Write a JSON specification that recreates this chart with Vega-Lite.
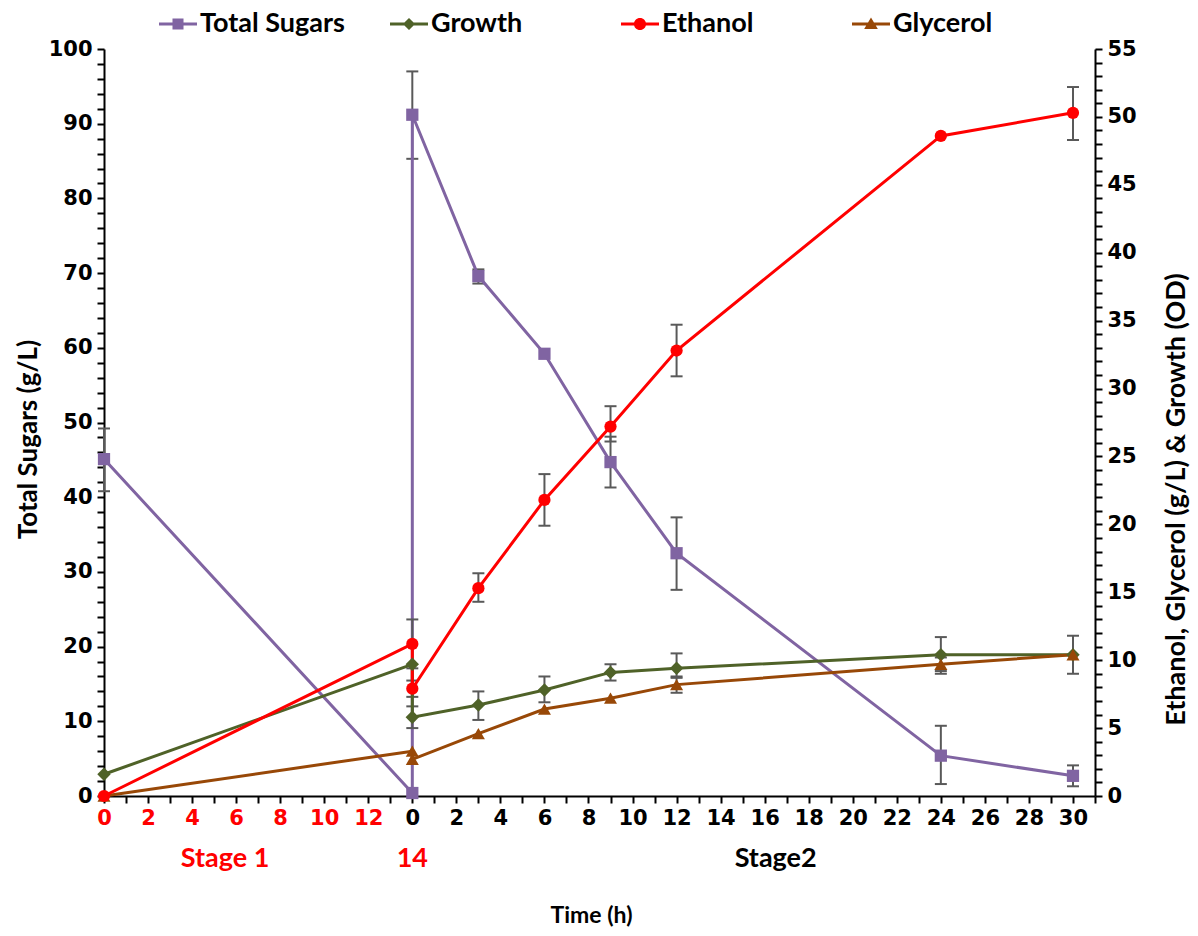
{
  "$schema": "https://vega.github.io/schema/vega-lite/v6.json",
  "width": 991,
  "height": 747,
  "padding": {"left": 15, "top": 5, "right": 3, "bottom": 5},
  "background": "white",
  "config": {
    "view": {"stroke": null},
    "axis": {
      "grid": false,
      "domainColor": "black",
      "domainWidth": 2,
      "tickColor": "black",
      "tickWidth": 2,
      "tickSize": 7,
      "labelFont": "DejaVu Sans",
      "labelFontWeight": "bold",
      "labelFontSize": 21,
      "labelColor": "black",
      "titleFont": "Lato",
      "titleFontWeight": "bold",
      "titleFontSize": 22,
      "titleColor": "black",
      "labelOverlap": false,
      "labelFlush": false
    }
  },
  "datasets": {
    "series": [
      {"series": "Total Sugars", "t": 0, "v": 45.1, "ord": 1},
      {"series": "Total Sugars", "t": 14, "v": 0.4, "ord": 2},
      {"series": "Total Sugars", "t": 14, "v": 91.2, "ord": 3},
      {"series": "Total Sugars", "t": 17, "v": 69.6, "ord": 4},
      {"series": "Total Sugars", "t": 20, "v": 59.2, "ord": 5},
      {"series": "Total Sugars", "t": 23, "v": 44.7, "ord": 6},
      {"series": "Total Sugars", "t": 26, "v": 32.5, "ord": 7},
      {"series": "Total Sugars", "t": 38, "v": 5.4, "ord": 8},
      {"series": "Total Sugars", "t": 44, "v": 2.7, "ord": 9},
      {"series": "Growth", "t": 0, "v": 1.6, "ord": 1},
      {"series": "Growth", "t": 14, "v": 9.7, "ord": 2},
      {"series": "Growth", "t": 14, "v": 5.8, "ord": 3},
      {"series": "Growth", "t": 17, "v": 6.7, "ord": 4},
      {"series": "Growth", "t": 20, "v": 7.8, "ord": 5},
      {"series": "Growth", "t": 23, "v": 9.1, "ord": 6},
      {"series": "Growth", "t": 26, "v": 9.4, "ord": 7},
      {"series": "Growth", "t": 38, "v": 10.4, "ord": 8},
      {"series": "Growth", "t": 44, "v": 10.4, "ord": 9},
      {"series": "Glycerol", "t": 0, "v": 0, "ord": 1},
      {"series": "Glycerol", "t": 14, "v": 3.3, "ord": 2},
      {"series": "Glycerol", "t": 14, "v": 2.7, "ord": 3},
      {"series": "Glycerol", "t": 17, "v": 4.6, "ord": 4},
      {"series": "Glycerol", "t": 20, "v": 6.4, "ord": 5},
      {"series": "Glycerol", "t": 23, "v": 7.2, "ord": 6},
      {"series": "Glycerol", "t": 26, "v": 8.2, "ord": 7},
      {"series": "Glycerol", "t": 38, "v": 9.7, "ord": 8},
      {"series": "Glycerol", "t": 44, "v": 10.4, "ord": 9},
      {"series": "Ethanol", "t": 0, "v": 0, "ord": 1},
      {"series": "Ethanol", "t": 14, "v": 11.2, "ord": 2},
      {"series": "Ethanol", "t": 14, "v": 7.9, "ord": 3},
      {"series": "Ethanol", "t": 17, "v": 15.3, "ord": 4},
      {"series": "Ethanol", "t": 20, "v": 21.8, "ord": 5},
      {"series": "Ethanol", "t": 23, "v": 27.2, "ord": 6},
      {"series": "Ethanol", "t": 26, "v": 32.8, "ord": 7},
      {"series": "Ethanol", "t": 38, "v": 48.6, "ord": 8},
      {"series": "Ethanol", "t": 44, "v": 50.3, "ord": 9}
    ],
    "errs": [
      {"series": "Total Sugars", "t": 0, "lo": 40.8, "hi": 49.2},
      {"series": "Total Sugars", "t": 14, "lo": 85.3, "hi": 97.0},
      {"series": "Total Sugars", "t": 17, "lo": 68.6, "hi": 70.5},
      {"series": "Total Sugars", "t": 23, "lo": 41.3, "hi": 48.1},
      {"series": "Total Sugars", "t": 26, "lo": 27.6, "hi": 37.3},
      {"series": "Total Sugars", "t": 38, "lo": 1.6, "hi": 9.4},
      {"series": "Total Sugars", "t": 44, "lo": 1.3, "hi": 4.1},
      {"series": "Ethanol", "t": 14, "lo": 9.4, "hi": 13.0},
      {"series": "Ethanol", "t": 14, "lo": 7.3, "hi": 8.5},
      {"series": "Ethanol", "t": 17, "lo": 14.3, "hi": 16.4},
      {"series": "Ethanol", "t": 20, "lo": 19.9, "hi": 23.7},
      {"series": "Ethanol", "t": 23, "lo": 26.1, "hi": 28.7},
      {"series": "Ethanol", "t": 26, "lo": 30.9, "hi": 34.7},
      {"series": "Ethanol", "t": 44, "lo": 48.3, "hi": 52.2},
      {"series": "Growth", "t": 14, "lo": 5.0, "hi": 6.6},
      {"series": "Growth", "t": 17, "lo": 5.6, "hi": 7.7},
      {"series": "Growth", "t": 20, "lo": 6.9, "hi": 8.8},
      {"series": "Growth", "t": 23, "lo": 8.5, "hi": 9.7},
      {"series": "Growth", "t": 26, "lo": 8.8, "hi": 10.5},
      {"series": "Growth", "t": 38, "lo": 9.0, "hi": 11.7},
      {"series": "Growth", "t": 44, "lo": 9.0, "hi": 11.8},
      {"series": "Glycerol", "t": 26, "lo": 7.6, "hi": 8.7},
      {"series": "Glycerol", "t": 38, "lo": 9.2, "hi": 10.2}
    ],
    "notes": [
      {"label": "Stage 1", "t": 5.5},
      {"label": "14", "t": 14},
      {"label": "Stage2", "t": 30.5}
    ]
  },
  "encoding": {
    "x": {
      "field": "t",
      "type": "quantitative",
      "scale": {"domain": [0, 45], "nice": false, "zero": false},
      "axis": {
        "title": "Time (h)",
        "titleFontSize": 23,
        "titleX": 487,
        "values": [0,1,2,3,4,5,6,7,8,9,10,11,12,13,14,15,16,17,18,19,20,21,22,23,24,25,26,27,28,29,30,31,32,33,34,35,36,37,38,39,40,41,42,43,44,45],
        "labelExpr": "datum.value < 14 ? (datum.value % 2 === 0 ? format(datum.value, 'd') : '') : (((datum.value - 14) % 2 === 0 && datum.value <= 44) ? format(datum.value - 14, 'd') : '')",
        "labelColor": {"condition": {"test": "datum.value < 14", "value": "#FF0000"}, "value": "#000000"},
        "labelPadding": 4,
        "titlePadding": 76
      }
    }
  },
  "layer": [
    {
      "layer": [
        {
          "data": {"name": "errs"},
          "transform": [{"filter": "datum.series === 'Total Sugars'"}],
          "mark": {"type": "rule", "color": "#595959", "strokeWidth": 2},
          "encoding": {
            "y": {"field": "lo", "type": "quantitative", "scale": {"domain": [0, 100], "nice": false},
              "axis": {"title": "Total Sugars (g/L)", "titleFontSize": 26, "titleY": 390, "orient": "left", "values": [0,2,4,6,8,10,12,14,16,18,20,22,24,26,28,30,32,34,36,38,40,42,44,46,48,50,52,54,56,58,60,62,64,66,68,70,72,74,76,78,80,82,84,86,88,90,92,94,96,98,100], "labelExpr": "datum.value % 10 === 0 ? datum.label : ''", "labelPadding": 5, "titlePadding": 7}},
            "y2": {"field": "hi"}
          }
        },
        {
          "data": {"name": "errs"},
          "transform": [{"filter": "datum.series === 'Total Sugars'"}],
          "mark": {"type": "point", "shape": "M-1,0L1,0", "filled": false, "color": "#595959", "strokeWidth": 2, "size": 144, "opacity": 1},
          "encoding": {"y": {"field": "lo", "type": "quantitative", "scale": {"domain": [0, 100], "nice": false},
              "axis": {"title": "Total Sugars (g/L)", "titleFontSize": 26, "titleY": 390, "orient": "left", "values": [0,2,4,6,8,10,12,14,16,18,20,22,24,26,28,30,32,34,36,38,40,42,44,46,48,50,52,54,56,58,60,62,64,66,68,70,72,74,76,78,80,82,84,86,88,90,92,94,96,98,100], "labelExpr": "datum.value % 10 === 0 ? datum.label : ''", "labelPadding": 5, "titlePadding": 7}}}
        },
        {
          "data": {"name": "errs"},
          "transform": [{"filter": "datum.series === 'Total Sugars'"}],
          "mark": {"type": "point", "shape": "M-1,0L1,0", "filled": false, "color": "#595959", "strokeWidth": 2, "size": 144, "opacity": 1},
          "encoding": {"y": {"field": "hi", "type": "quantitative", "scale": {"domain": [0, 100], "nice": false},
              "axis": {"title": "Total Sugars (g/L)", "titleFontSize": 26, "titleY": 390, "orient": "left", "values": [0,2,4,6,8,10,12,14,16,18,20,22,24,26,28,30,32,34,36,38,40,42,44,46,48,50,52,54,56,58,60,62,64,66,68,70,72,74,76,78,80,82,84,86,88,90,92,94,96,98,100], "labelExpr": "datum.value % 10 === 0 ? datum.label : ''", "labelPadding": 5, "titlePadding": 7}}}
        },
        {
          "data": {"name": "series"},
          "transform": [{"filter": "datum.series === 'Total Sugars'"}],
          "mark": {"type": "line", "strokeWidth": 3},
          "encoding": {
            "y": {"field": "v", "type": "quantitative", "scale": {"domain": [0, 100], "nice": false},
              "axis": {"title": "Total Sugars (g/L)", "titleFontSize": 26, "titleY": 390, "orient": "left", "values": [0,2,4,6,8,10,12,14,16,18,20,22,24,26,28,30,32,34,36,38,40,42,44,46,48,50,52,54,56,58,60,62,64,66,68,70,72,74,76,78,80,82,84,86,88,90,92,94,96,98,100], "labelExpr": "datum.value % 10 === 0 ? datum.label : ''", "labelPadding": 5, "titlePadding": 7}},
            "order": {"field": "ord", "type": "quantitative"},
            "color": {
              "field": "series",
              "type": "nominal",
              "scale": {"domain": ["Total Sugars", "Growth", "Ethanol", "Glycerol"], "range": ["#8064A2", "#4F6228", "#FF0000", "#984807"]},
              "legend": {
                "orient": "none", "legendX": 55, "legendY": -44, "direction": "horizontal", "columns": 4, "gridAlign": "all", "columnPadding": 45,
                "title": null, "symbolSize": 1444, "labelFont": "Lato", "labelFontSize": 27, "labelFontWeight": "bold", "labelColor": "black", "labelOffset": 3,
                "encode": {"symbols": {"update": {
                  "shape": {"signal": "datum.value === 'Total Sugars' ? 'M-1,-0.08L1,-0.08L1,0.08L-1,0.08Z M-0.29,-0.29L0.29,-0.29L0.29,0.29L-0.29,0.29Z' : datum.value === 'Growth' ? 'M-1,-0.08L1,-0.08L1,0.08L-1,0.08Z M0,-0.32L0.32,0L0,0.32L-0.32,0Z' : datum.value === 'Ethanol' ? 'M-1,-0.08L1,-0.08L1,0.08L-1,0.08Z M0.32,0A0.32,0.32 0 1,1 -0.32,0A0.32,0.32 0 1,1 0.32,0Z' : 'M-1,-0.08L1,-0.08L1,0.08L-1,0.08Z M0,-0.34L0.36,0.26L-0.36,0.26Z'"},
                  "fill": {"signal": "scale('color', datum.value)"},
                  "stroke": {"value": "transparent"},
                  "strokeWidth": {"value": 0},
                  "opacity": {"value": 1},
                  "fillOpacity": {"value": 1},
                  "size": {"value": 1444}
                }}}
              }
            }
          }
        },
        {
          "data": {"name": "series"},
          "transform": [{"filter": "datum.series === 'Total Sugars'"}],
          "mark": {"type": "point", "shape": "square", "filled": true, "opacity": 1, "size": 150},
          "encoding": {
            "y": {"field": "v", "type": "quantitative", "scale": {"domain": [0, 100], "nice": false},
              "axis": {"title": "Total Sugars (g/L)", "titleFontSize": 26, "titleY": 390, "orient": "left", "values": [0,2,4,6,8,10,12,14,16,18,20,22,24,26,28,30,32,34,36,38,40,42,44,46,48,50,52,54,56,58,60,62,64,66,68,70,72,74,76,78,80,82,84,86,88,90,92,94,96,98,100], "labelExpr": "datum.value % 10 === 0 ? datum.label : ''", "labelPadding": 5, "titlePadding": 7}},
            "color": {"field": "series", "type": "nominal"}
          }
        },
        {
          "data": {"name": "notes"},
          "transform": [{"filter": "datum.label !== 'Stage2'"}],
          "mark": {"type": "text", "font": "Lato", "fontWeight": "bold", "fontSize": 27, "color": "#FF0000", "baseline": "middle", "align": "center", "dy": 63},
          "encoding": {
            "y": {"datum": 0, "type": "quantitative", "scale": {"domain": [0, 100], "nice": false},
              "axis": {"title": "Total Sugars (g/L)", "titleFontSize": 26, "titleY": 390, "orient": "left", "values": [0,2,4,6,8,10,12,14,16,18,20,22,24,26,28,30,32,34,36,38,40,42,44,46,48,50,52,54,56,58,60,62,64,66,68,70,72,74,76,78,80,82,84,86,88,90,92,94,96,98,100], "labelExpr": "datum.value % 10 === 0 ? datum.label : ''", "labelPadding": 5, "titlePadding": 7}},
            "text": {"field": "label"}
          }
        },
        {
          "data": {"name": "notes"},
          "transform": [{"filter": "datum.label === 'Stage2'"}],
          "mark": {"type": "text", "font": "Lato", "fontWeight": "bold", "fontSize": 27, "color": "#000000", "baseline": "middle", "align": "center", "dy": 63},
          "encoding": {
            "y": {"datum": 0, "type": "quantitative", "scale": {"domain": [0, 100], "nice": false},
              "axis": {"title": "Total Sugars (g/L)", "titleFontSize": 26, "titleY": 390, "orient": "left", "values": [0,2,4,6,8,10,12,14,16,18,20,22,24,26,28,30,32,34,36,38,40,42,44,46,48,50,52,54,56,58,60,62,64,66,68,70,72,74,76,78,80,82,84,86,88,90,92,94,96,98,100], "labelExpr": "datum.value % 10 === 0 ? datum.label : ''", "labelPadding": 5, "titlePadding": 7}},
            "text": {"field": "label"}
          }
        }
      ]
    },
    {
      "layer": [
        {
          "data": {"name": "errs"},
          "transform": [{"filter": "datum.series !== 'Total Sugars'"}],
          "mark": {"type": "rule", "color": "#595959", "strokeWidth": 2},
          "encoding": {
            "y": {"field": "lo", "type": "quantitative", "scale": {"domain": [0, 55], "nice": false},
              "axis": {"title": "Ethanol, Glycerol (g/L) & Growth (OD)", "titleFontSize": 27, "titleY": 450, "orient": "right", "values": [0,1,2,3,4,5,6,7,8,9,10,11,12,13,14,15,16,17,18,19,20,21,22,23,24,25,26,27,28,29,30,31,32,33,34,35,36,37,38,39,40,41,42,43,44,45,46,47,48,49,50,51,52,53,54,55], "labelExpr": "datum.value % 5 === 0 ? datum.label : ''", "labelPadding": 5, "titlePadding": 27, "titleAngle": 270, "titleBaseline": "top"}},
            "y2": {"field": "hi"}
          }
        },
        {
          "data": {"name": "errs"},
          "transform": [{"filter": "datum.series !== 'Total Sugars'"}],
          "mark": {"type": "point", "shape": "M-1,0L1,0", "filled": false, "color": "#595959", "strokeWidth": 2, "size": 144, "opacity": 1},
          "encoding": {"y": {"field": "lo", "type": "quantitative", "scale": {"domain": [0, 55], "nice": false},
              "axis": {"title": "Ethanol, Glycerol (g/L) & Growth (OD)", "titleFontSize": 27, "titleY": 450, "orient": "right", "values": [0,1,2,3,4,5,6,7,8,9,10,11,12,13,14,15,16,17,18,19,20,21,22,23,24,25,26,27,28,29,30,31,32,33,34,35,36,37,38,39,40,41,42,43,44,45,46,47,48,49,50,51,52,53,54,55], "labelExpr": "datum.value % 5 === 0 ? datum.label : ''", "labelPadding": 5, "titlePadding": 27, "titleAngle": 270, "titleBaseline": "top"}}}
        },
        {
          "data": {"name": "errs"},
          "transform": [{"filter": "datum.series !== 'Total Sugars'"}],
          "mark": {"type": "point", "shape": "M-1,0L1,0", "filled": false, "color": "#595959", "strokeWidth": 2, "size": 144, "opacity": 1},
          "encoding": {"y": {"field": "hi", "type": "quantitative", "scale": {"domain": [0, 55], "nice": false},
              "axis": {"title": "Ethanol, Glycerol (g/L) & Growth (OD)", "titleFontSize": 27, "titleY": 450, "orient": "right", "values": [0,1,2,3,4,5,6,7,8,9,10,11,12,13,14,15,16,17,18,19,20,21,22,23,24,25,26,27,28,29,30,31,32,33,34,35,36,37,38,39,40,41,42,43,44,45,46,47,48,49,50,51,52,53,54,55], "labelExpr": "datum.value % 5 === 0 ? datum.label : ''", "labelPadding": 5, "titlePadding": 27, "titleAngle": 270, "titleBaseline": "top"}}}
        },
        {
          "data": {"name": "series"},
          "transform": [{"filter": "datum.series !== 'Total Sugars'"}],
          "mark": {"type": "line", "strokeWidth": 3},
          "encoding": {
            "y": {"field": "v", "type": "quantitative", "scale": {"domain": [0, 55], "nice": false},
              "axis": {"title": "Ethanol, Glycerol (g/L) & Growth (OD)", "titleFontSize": 27, "titleY": 450, "orient": "right", "values": [0,1,2,3,4,5,6,7,8,9,10,11,12,13,14,15,16,17,18,19,20,21,22,23,24,25,26,27,28,29,30,31,32,33,34,35,36,37,38,39,40,41,42,43,44,45,46,47,48,49,50,51,52,53,54,55], "labelExpr": "datum.value % 5 === 0 ? datum.label : ''", "labelPadding": 5, "titlePadding": 27, "titleAngle": 270, "titleBaseline": "top"}},
            "order": {"field": "ord", "type": "quantitative"},
            "color": {"field": "series", "type": "nominal"}
          }
        },
        {
          "data": {"name": "series"},
          "transform": [{"filter": "datum.series === 'Growth'"}],
          "mark": {"type": "point", "shape": "diamond", "filled": true, "opacity": 1, "size": 180},
          "encoding": {
            "y": {"field": "v", "type": "quantitative", "scale": {"domain": [0, 55], "nice": false},
              "axis": {"title": "Ethanol, Glycerol (g/L) & Growth (OD)", "titleFontSize": 27, "titleY": 450, "orient": "right", "values": [0,1,2,3,4,5,6,7,8,9,10,11,12,13,14,15,16,17,18,19,20,21,22,23,24,25,26,27,28,29,30,31,32,33,34,35,36,37,38,39,40,41,42,43,44,45,46,47,48,49,50,51,52,53,54,55], "labelExpr": "datum.value % 5 === 0 ? datum.label : ''", "labelPadding": 5, "titlePadding": 27, "titleAngle": 270, "titleBaseline": "top"}},
            "color": {"field": "series", "type": "nominal"}
          }
        },
        {
          "data": {"name": "series"},
          "transform": [{"filter": "datum.series === 'Glycerol'"}],
          "mark": {"type": "point", "shape": "triangle-up", "filled": true, "opacity": 1, "size": 170},
          "encoding": {
            "y": {"field": "v", "type": "quantitative", "scale": {"domain": [0, 55], "nice": false},
              "axis": {"title": "Ethanol, Glycerol (g/L) & Growth (OD)", "titleFontSize": 27, "titleY": 450, "orient": "right", "values": [0,1,2,3,4,5,6,7,8,9,10,11,12,13,14,15,16,17,18,19,20,21,22,23,24,25,26,27,28,29,30,31,32,33,34,35,36,37,38,39,40,41,42,43,44,45,46,47,48,49,50,51,52,53,54,55], "labelExpr": "datum.value % 5 === 0 ? datum.label : ''", "labelPadding": 5, "titlePadding": 27, "titleAngle": 270, "titleBaseline": "top"}},
            "color": {"field": "series", "type": "nominal"}
          }
        },
        {
          "data": {"name": "series"},
          "transform": [{"filter": "datum.series === 'Ethanol'"}],
          "mark": {"type": "point", "shape": "circle", "filled": true, "opacity": 1, "size": 150},
          "encoding": {
            "y": {"field": "v", "type": "quantitative", "scale": {"domain": [0, 55], "nice": false},
              "axis": {"title": "Ethanol, Glycerol (g/L) & Growth (OD)", "titleFontSize": 27, "titleY": 450, "orient": "right", "values": [0,1,2,3,4,5,6,7,8,9,10,11,12,13,14,15,16,17,18,19,20,21,22,23,24,25,26,27,28,29,30,31,32,33,34,35,36,37,38,39,40,41,42,43,44,45,46,47,48,49,50,51,52,53,54,55], "labelExpr": "datum.value % 5 === 0 ? datum.label : ''", "labelPadding": 5, "titlePadding": 27, "titleAngle": 270, "titleBaseline": "top"}},
            "color": {"field": "series", "type": "nominal"}
          }
        }
      ]
    }
  ],
  "resolve": {"scale": {"y": "independent"}}
}
